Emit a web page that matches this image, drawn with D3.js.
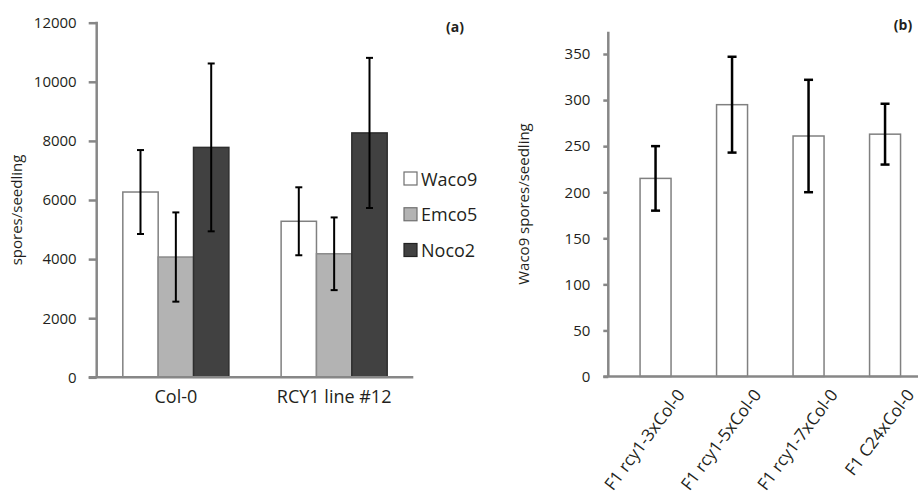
<!DOCTYPE html>
<html>
<head>
<meta charset="utf-8">
<script src="https://cdn.jsdelivr.net/npm/d3@7/dist/d3.min.js"></script>
<style>
  html, body { margin: 0; padding: 0; background: #fff; }
  text { font-family: "Open Sans", "Noto Sans", sans-serif; fill: #231f20; }
</style>
</head>
<body>
<svg id="chart" width="918" height="504"></svg>
<script>
// ---- Panel (a) data ----
const groupsA = ["Col-0", "RCY1 line #12"];
const seriesA = ["Waco9", "Emco5", "Noco2"];
const waco9Mean = [6270, 5280];
const waco9Err  = [1420, 1150];
const emco5Mean = [4070, 4180];
const emco5Err  = [1510, 1230];
const noco2Mean = [7780, 8270];
const noco2Err  = [2840, 2540];
const ticksA = [0, 2000, 4000, 6000, 8000, 10000, 12000];

// ---- Panel (b) data ----
const catsB = ["F1 rcy1-3xCol-0", "F1 rcy1-5xCol-0", "F1 rcy1-7xCol-0", "F1 C24xCol-0"];
const meanB = [215, 295, 261, 263];
const errB  = [35, 52, 61, 33];
const ticksB = [0, 50, 100, 150, 200, 250, 300, 350];

const fills = {"Waco9": "#ffffff", "Emco5": "#b3b3b3", "Noco2": "#414141"};
const strokes = {"Waco9": "#808080", "Emco5": "#8a8a8a", "Noco2": "#2e2e2e"};
const axisColor = "#878787";

const svg = d3.select("#chart");

// ================= Panel (a) =================
const ax0 = 96.7, ax1 = 413.3, ay0 = 377.3, ay1 = 22.7;
const yA = d3.scaleLinear().domain([0, 12000]).range([ay0, ay1]);
const xA = d3.scaleBand().domain(groupsA).range([ax0, ax1]).paddingInner(0.33).paddingOuter(0.165);
const xInner = d3.scaleBand().domain(seriesA).range([0, xA.bandwidth()]);

const dataA = [];
groupsA.forEach((g, i) => {
  dataA.push({g, s: "Waco9", v: waco9Mean[i], e: waco9Err[i]});
  dataA.push({g, s: "Emco5", v: emco5Mean[i], e: emco5Err[i]});
  dataA.push({g, s: "Noco2", v: noco2Mean[i], e: noco2Err[i]});
});

const gA = svg.append("g");
gA.selectAll("rect.bar").data(dataA).enter().append("rect")
  .attr("x", d => xA(d.g) + xInner(d.s))
  .attr("y", d => yA(d.v))
  .attr("width", xInner.bandwidth())
  .attr("height", d => yA(0) - yA(d.v))
  .attr("fill", d => fills[d.s])
  .attr("stroke", d => strokes[d.s])
  .attr("stroke-width", 1.5);

// error bars
const capA = 3.5;
gA.selectAll("g.err").data(dataA).enter().append("g").each(function(d) {
  const cx = xA(d.g) + xInner(d.s) + xInner.bandwidth() / 2;
  const g = d3.select(this);
  g.append("line").attr("x1", cx).attr("x2", cx).attr("y1", yA(d.v + d.e)).attr("y2", yA(d.v - d.e));
  g.append("line").attr("x1", cx - capA).attr("x2", cx + capA).attr("y1", yA(d.v + d.e)).attr("y2", yA(d.v + d.e));
  g.append("line").attr("x1", cx - capA).attr("x2", cx + capA).attr("y1", yA(d.v - d.e)).attr("y2", yA(d.v - d.e));
  g.selectAll("line").attr("stroke", "#000").attr("stroke-width", 2);
});

// y axis
const yAxisA = d3.axisLeft(yA).tickValues(ticksA).tickSize(8).tickPadding(12).tickFormat(d3.format("d"));
const gyA = svg.append("g").attr("transform", `translate(${ax0},0)`).call(yAxisA);
gyA.select(".domain").remove();
gyA.selectAll(".tick line").attr("stroke", axisColor).attr("stroke-width", 2.5);
gyA.selectAll(".tick text").style("font-size", "15px").style("font-family", '"Open Sans", sans-serif').attr("fill", "#231f20");
svg.append("line").attr("x1", ax0).attr("x2", ax0).attr("y1", ay1 - 1).attr("y2", ay0)
  .attr("stroke", axisColor).attr("stroke-width", 2.5);
svg.append("line").attr("x1", ax0 - 8).attr("x2", ax1).attr("y1", ay0).attr("y2", ay0)
  .attr("stroke", axisColor).attr("stroke-width", 2.5);

// x axis labels
const xAxisA = d3.axisBottom(xA).tickSize(0).tickPadding(13);
const gxA = svg.append("g").attr("transform", `translate(0,${ay0})`).call(xAxisA);
gxA.select(".domain").remove();
gxA.selectAll(".tick text").style("font-size", "18px").style("font-family", '"Open Sans", sans-serif').attr("fill", "#231f20");

// y title
svg.append("text").attr("transform", "translate(22,210) rotate(-90)")
  .attr("text-anchor", "middle").style("font-size", "15px").text("spores/seedling");

// panel label
svg.append("text").attr("x", 455).attr("y", 32).attr("text-anchor", "middle")
  .style("font-size", "14px").style("font-weight", "bold").text("(a)");

// legend
const legend = svg.append("g");
const legY = d3.scalePoint().domain(seriesA).range([172, 243.5]);
seriesA.forEach(s => {
  legend.append("rect").attr("x", 404).attr("y", legY(s)).attr("width", 13).attr("height", 13)
    .attr("fill", fills[s]).attr("stroke", strokes[s] === "#2e2e2e" ? "#222" : "#6f6f6f").attr("stroke-width", 1.2);
  legend.append("text").attr("x", 421).attr("y", legY(s) + 13.5)
    .style("font-size", "18px").text(s);
});

// ================= Panel (b) =================
const bx0 = 608.3, bxEnd = 918, by0 = 376.5;
const yB = d3.scaleLinear().domain([0, 350]).range([by0, 54]);
const xB = d3.scaleBand().domain(catsB).range([617.3, 923.3]).paddingInner(0.595).paddingOuter(0.2975);
const gB = svg.append("g");
const dataB = catsB.map((c, i) => ({c, v: meanB[i], e: errB[i]}));

gB.selectAll("rect").data(dataB).enter().append("rect")
  .attr("x", d => xB(d.c)).attr("y", d => yB(d.v))
  .attr("width", xB.bandwidth()).attr("height", d => yB(0) - yB(d.v))
  .attr("fill", "#fff").attr("stroke", "#808080").attr("stroke-width", 1.5);

const capB = 4.5;
gB.selectAll("g.err").data(dataB).enter().append("g").each(function(d) {
  const cx = xB(d.c) + xB.bandwidth() / 2;
  const g = d3.select(this);
  g.append("line").attr("x1", cx).attr("x2", cx).attr("y1", yB(d.v + d.e)).attr("y2", yB(d.v - d.e));
  g.append("line").attr("x1", cx - capB).attr("x2", cx + capB).attr("y1", yB(d.v + d.e)).attr("y2", yB(d.v + d.e));
  g.append("line").attr("x1", cx - capB).attr("x2", cx + capB).attr("y1", yB(d.v - d.e)).attr("y2", yB(d.v - d.e));
  g.selectAll("line").attr("stroke", "#000").attr("stroke-width", 2.5);
});

const yAxisB = d3.axisLeft(yB).tickValues(ticksB).tickSize(5).tickPadding(13).tickFormat(d3.format("d"));
const gyB = svg.append("g").attr("transform", `translate(${bx0},0)`).call(yAxisB);
gyB.select(".domain").remove();
gyB.selectAll(".tick line").attr("stroke", axisColor).attr("stroke-width", 2.5);
gyB.selectAll(".tick text").style("font-size", "15px").style("font-family", '"Open Sans", sans-serif').attr("fill", "#231f20");
svg.append("line").attr("x1", bx0).attr("x2", bx0).attr("y1", 31.7).attr("y2", by0)
  .attr("stroke", axisColor).attr("stroke-width", 2.5);
svg.append("line").attr("x1", bx0 - 5).attr("x2", bxEnd).attr("y1", by0).attr("y2", by0)
  .attr("stroke", axisColor).attr("stroke-width", 2.5);

// rotated category labels
const catLabels = gB.selectAll("text.cat").data(dataB).enter().append("text")
  .attr("class", "cat")
  .attr("transform", d => `translate(${xB(d.c) + xB.bandwidth() / 2 + 30},395) rotate(-53)`)
  .attr("text-anchor", "end").style("font-size", "17px").text(d => d.c);
// fit font so first label spans ~126px like the reference
const len0 = catLabels.node().getComputedTextLength();
const fs = Math.min(17, 17 * 126 / len0);
catLabels.style("font-size", fs + "px");

svg.append("text").attr("transform", "translate(529,204) rotate(-90)")
  .attr("text-anchor", "middle").style("font-size", "15px").text("Waco9 spores/seedling");

svg.append("text").attr("x", 903).attr("y", 30).attr("text-anchor", "middle")
  .style("font-size", "14px").style("font-weight", "bold").text("(b)");
</script>
</body>
</html>
